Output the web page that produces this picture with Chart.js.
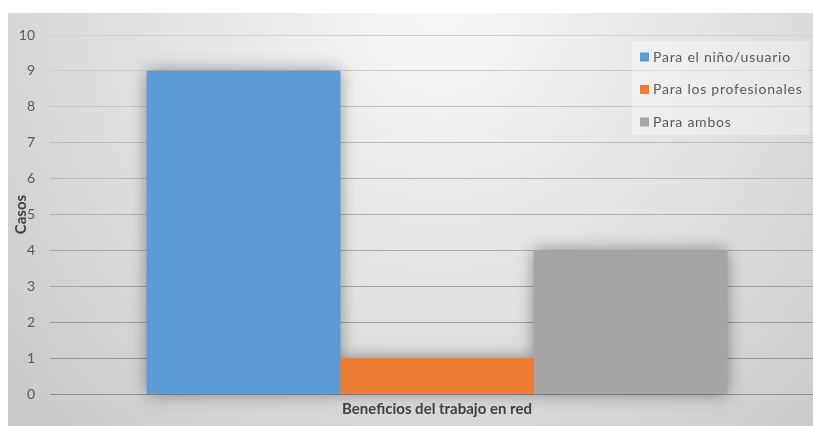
<!DOCTYPE html>
<html>
<head>
<meta charset="utf-8">
<script src="https://cdn.jsdelivr.net/npm/chart.js@4"></script>
<style>
  html, body { margin: 0; padding: 0; background: #fff; overflow: hidden; }
  #wrap { position: absolute; left: 0; top: 0; width: 830px; height: 426px; }
</style>
</head>
<body>
<div id="wrap"><canvas id="chart" width="830" height="426"></canvas></div>
<script>
const categories = [''];
const seriesNames = ['Para el niño/usuario', 'Para los profesionales', 'Para ambos'];
const seriesValues = [[9], [1], [4]];
const seriesColors = ['#5b9bd5', '#ed7d31', '#a5a5a5'];
const yTicks = [0, 1, 2, 3, 4, 5, 6, 7, 8, 9, 10];
const xTitle = 'Beneficios del trabajo en red';
const yTitle = 'Casos';

const FONT = 'Lato, "Open Sans", sans-serif';

// soft grey backdrop, brighter near the top centre
const backdrop = {
    id: 'backdrop',
    beforeDraw(chart) {
        const ctx = chart.ctx;
        ctx.save();
        const g = ctx.createRadialGradient(440, 10, 20, 440, 10, 560);
        g.addColorStop(0, '#f6f6f6');
        g.addColorStop(0.45, '#e4e4e4');
        g.addColorStop(1, '#cbcbcb');
        ctx.fillStyle = g;
        ctx.fillRect(8, 13, chart.width - 8, chart.height - 13);
        ctx.restore();
    }
};

// blurred shadow under every bar, drawn before the bars themselves
const barShadow = {
    id: 'barShadow',
    beforeDatasetsDraw(chart) {
        const ctx = chart.ctx;
        ctx.save();
        ctx.shadowColor = 'rgba(0,0,0,0.4)';
        ctx.shadowBlur = 16;
        chart.data.datasets.forEach((ds, i) => {
            chart.getDatasetMeta(i).data.forEach(el => {
                const p = el.getProps(['x', 'y', 'base', 'width'], true);
                ctx.fillStyle = ds.backgroundColor;
                ctx.fillRect(p.x - p.width / 2, p.y, p.width, p.base - p.y);
            });
        });
        ctx.restore();
    }
};

// legend box floating over the top right of the plot
const floatLegend = {
    id: 'floatLegend',
    afterDraw(chart) {
        const ctx = chart.ctx;
        const box = { x: 632, y: 41, w: 177, h: 94 };
        ctx.save();
        ctx.fillStyle = 'rgba(255,255,255,0.35)';
        ctx.fillRect(box.x, box.y, box.w, box.h);
        ctx.font = '14px ' + FONT;
        ctx.letterSpacing = '0.75px';
        ctx.textBaseline = 'middle';
        chart.data.datasets.forEach((ds, i) => {
            const cy = 57 + i * 32.5;
            ctx.fillStyle = ds.backgroundColor;
            ctx.fillRect(640, cy - 4.5, 9, 9);
            ctx.fillStyle = '#595959';
            ctx.fillText(ds.label, 653, cy);
        });
        ctx.restore();
    }
};

const datasets = seriesNames.map((name, i) => ({
    label: name,
    data: seriesValues[i],
    backgroundColor: seriesColors[i],
    borderWidth: 0,
    categoryPercentage: 0.75,
    barPercentage: 1
}));

new Chart(document.getElementById('chart'), {
    type: 'bar',
    data: { labels: categories, datasets: datasets },
    plugins: [backdrop, barShadow, floatLegend],
    options: {
        responsive: false,
        animation: false,
        devicePixelRatio: 1,
        layout: { padding: { left: 13, top: 35, right: 6, bottom: 0 } },
        plugins: {
            legend: { display: false },
            tooltip: { enabled: false }
        },
        scales: {
            x: {
                grid: { display: false },
                border: { display: false },
                ticks: { display: false },
                title: {
                    display: true,
                    text: xTitle,
                    color: '#404040',
                    font: { family: FONT, size: 15, weight: 'bold' },
                    padding: { top: 0, bottom: 8 }
                },
                afterFit(scale) { scale.height = 32; }
            },
            y: {
                min: 0,
                max: 10,
                afterBuildTicks(scale) { scale.ticks = yTicks.map(v => ({ value: v })); },
                grid: {
                    drawTicks: false,
                    lineWidth: 1,
                    color(ctx) {
                        const v = ctx.tick ? ctx.tick.value : 0;
                        const c = Math.round(145 + (208 - 145) * v / 10);
                        return `rgb(${c},${c},${c})`;
                    }
                },
                border: { display: false },
                ticks: {
                    padding: 15,
                    color: '#595959',
                    font: { family: FONT, size: 14 }
                },
                title: {
                    display: true,
                    text: yTitle,
                    color: '#404040',
                    font: { family: FONT, size: 15, weight: 'bold' },
                    padding: { top: -1, bottom: 0 }
                },
                afterFit(scale) { scale.width = 37; }
            }
        }
    }
});
</script>
</body>
</html>
